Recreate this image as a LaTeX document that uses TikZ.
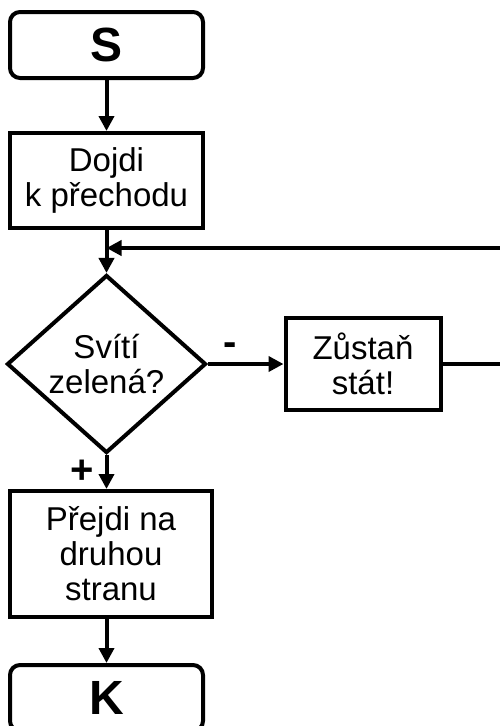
\documentclass[tikz,border=0pt]{standalone}
\usepackage{fontspec}
\setmainfont{Liberation Sans}
\usetikzlibrary{arrows.meta,shapes.geometric,positioning}

\begin{document}
\begin{tikzpicture}[x=1pt,y=-1pt,>={Triangle[length=15pt,width=15pt]},line width=4pt,
    every node/.style={font=\fontsize{33}{35}\selectfont},
    term/.style={draw,rounded corners=10pt,inner sep=0pt,minimum width=193pt,minimum height=66pt,font=\fontsize{48}{48}\selectfont\bfseries},
    proc/.style={draw,align=center,inner sep=0pt},
    decision/.style={draw,diamond,aspect=1.12,align=center,inner sep=0pt,minimum width=199pt,minimum height=178pt},
    sign/.style={font=\fontsize{40}{40}\selectfont\bfseries}]

            \useasboundingbox (0,0) rectangle (500,726);

            \node[term] (s) at (106.5,45) {S};

            \node[proc,minimum width=193pt,minimum height=95pt] (go) [below=51pt of s] {Dojdi\\k přechodu};

            \node[decision] (test) [below=43pt of go] {Svítí\\zelená?};

            \node[proc,minimum width=155pt,minimum height=92pt] (stay) [right=75.5pt of test] {Zůstaň\\stát!};

            \node[proc,minimum width=202pt,minimum height=126pt] (cross) [below=34pt of test,xshift=4.5pt] {Přejdi na\\druhou\\stranu};

            \node[term] (k) [below=44pt of cross,xshift=-4.5pt] {K};

            \coordinate (join) at (go.south |- 0,248);
            \coordinate (back) at (500,248);
            \coordinate (out) at (stay.east -| 500,0);

            \draw[->] (s) -- (go);
            \draw[->] (go) -- (test);
            \draw[->] (back) -- (join);
            \draw[->] (test) -- node[sign,pos=0.3,above=3pt] {-} (stay);
            \draw (stay) -- (out);
            \draw[->] (test.south) -- node[sign,left=7pt] {+} (test.south |- cross.north);
            \draw[->] (cross.south -| k.north) -- (k);

        \end{tikzpicture}
\end{document}
